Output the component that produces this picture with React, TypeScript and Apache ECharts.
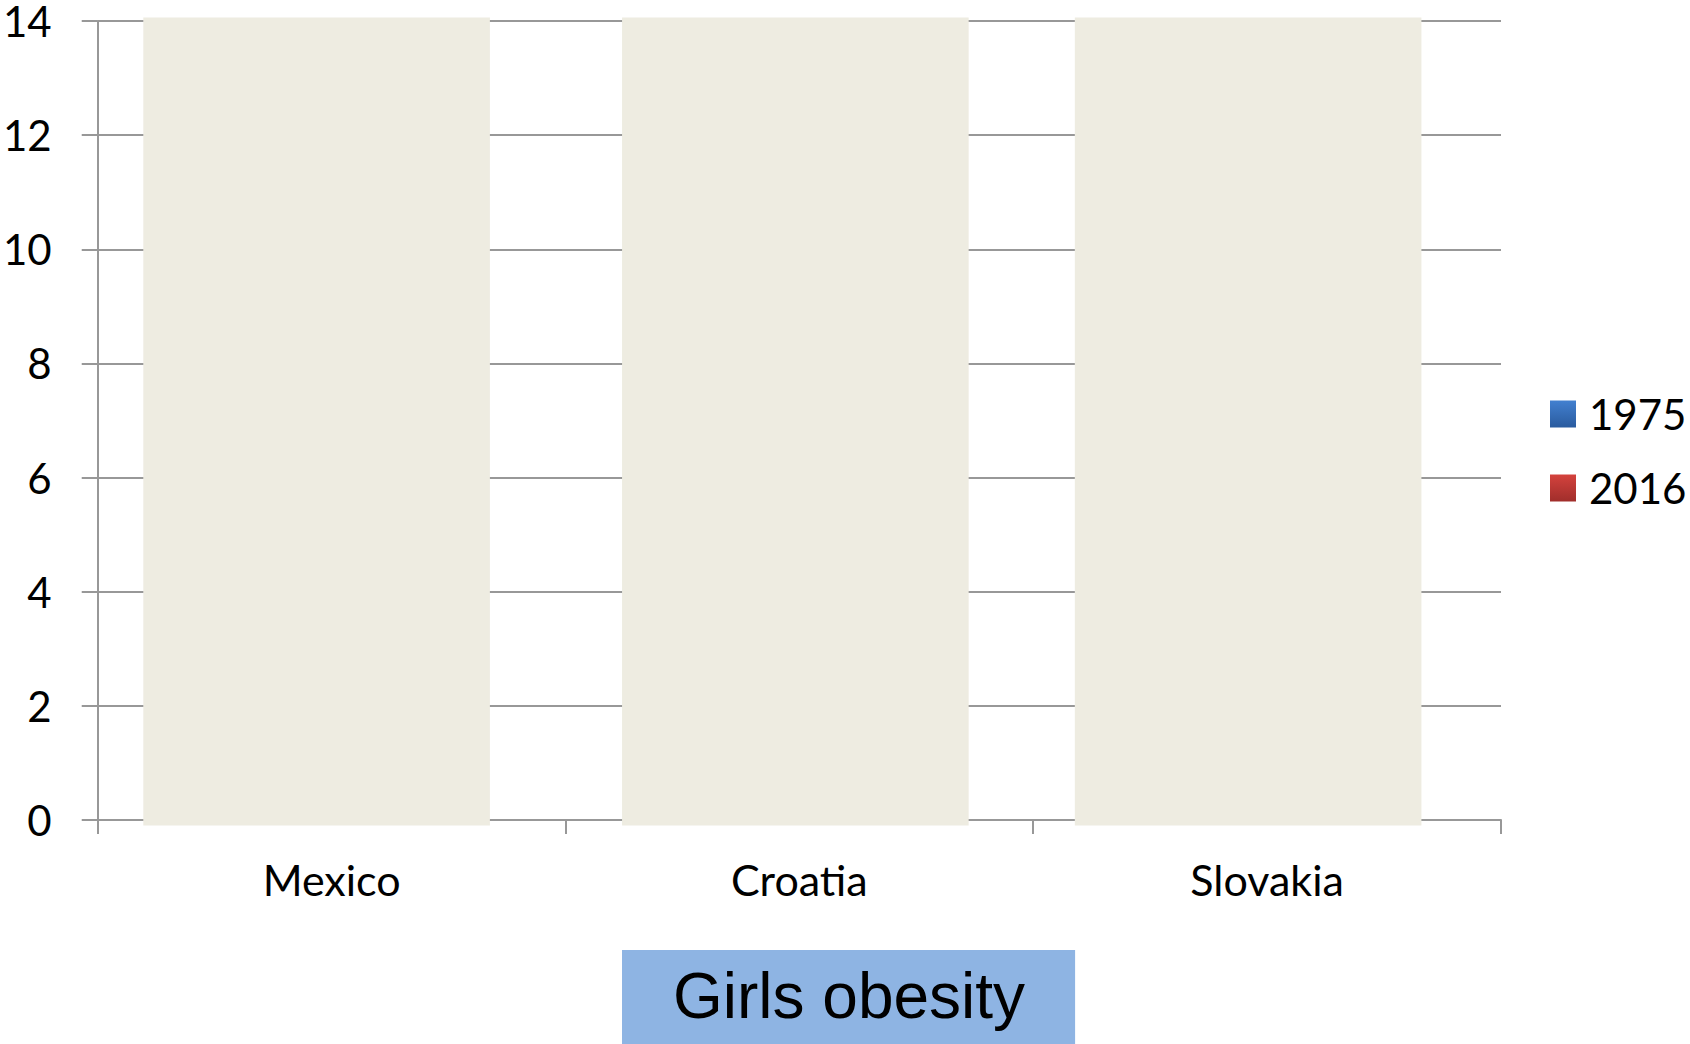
import React, { useEffect, useRef } from "react";
import * as echarts from "echarts";

const categories = ["Mexico", "Croatia", "Slovakia"];
const legendNames = ["1975", "2016"];
// Bars are hidden under the cover panels in the reference; values are estimates.
const values1975 = [1.2, 0.9, 0.7];
const values2016 = [12.8, 7.6, 5.9];
const yTicks = { min: 0, max: 14, interval: 2 };
const chartTitle = "Girls obesity";

// layout constants for the cover panels (not data)
const coverShift = [-15, -4, -19];
const coverRatio = 0.741;
const coverColor = "#EEECE1";

const FONT = "Lato";

export default function App() {
  const ref = useRef<HTMLDivElement>(null);
  useEffect(() => {
    if (!ref.current) return;
    const chart = echarts.init(ref.current, null, { renderer: "svg" });
    const grad = (a: string, b: string) =>
      new echarts.graphic.LinearGradient(0, 0, 0, 1, [
        { offset: 0, color: a },
        { offset: 1, color: b },
      ]);
    const gray = "#989898";
    chart.setOption({
      animation: false,
      backgroundColor: "#ffffff",
      title: {
        text: chartTitle,
        left: 622,
        top: 950,
        padding: [14, 50, 16, 51],
        backgroundColor: "#8EB4E3",
        textStyle: {
          fontFamily: "Liberation Sans",
          fontWeight: "normal",
          fontSize: 64,
          lineHeight: 64,
          color: "#000",
        },
      },
      legend: {
        data: legendNames,
        orient: "vertical",
        left: 1550,
        top: 393,
        padding: 0,
        itemWidth: 26,
        itemHeight: 27,
        itemGap: 32,
        icon: "rect",
        textStyle: {
          fontFamily: FONT,
          fontSize: 42,
          color: "#000",
          padding: [0, 0, 0, 8],
        },
      },
      grid: { left: 95, right: 189, top: 18.5, bottom: 224, containLabel: false },
      xAxis: {
        type: "category",
        data: categories,
        axisLine: { show: true, lineStyle: { color: gray, width: 2 } },
        axisTick: { show: true, length: 14, lineStyle: { color: gray, width: 2 } },
        axisLabel: { fontFamily: FONT, fontSize: 43, color: "#000", margin: 38 },
      },
      yAxis: {
        type: "value",
        min: yTicks.min,
        max: yTicks.max,
        interval: yTicks.interval,
        axisLine: { show: true, lineStyle: { color: gray, width: 2 } },
        axisTick: { show: true, length: 16, lineStyle: { color: gray, width: 2 } },
        axisLabel: { fontFamily: FONT, fontSize: 42, color: "#000", margin: 46 },
        splitLine: { show: true, lineStyle: { color: gray, width: 2 } },
      },
      series: [
        {
          name: legendNames[0],
          type: "bar",
          data: values1975,
          barWidth: "30%",
          itemStyle: { color: grad("#4280D0", "#2A5B9E") },
        },
        {
          name: legendNames[1],
          type: "bar",
          data: values2016,
          barWidth: "30%",
          itemStyle: { color: grad("#D4423D", "#A02E2B") },
        },
        {
          name: "cover",
          type: "custom",
          z: 10,
          silent: true,
          data: categories.map((_, i) => [i]),
          encode: { x: 0 },
          renderItem: (params: any, api: any) => {
            const i = api.value(0);
            const top = api.coord([i, yTicks.max]);
            const bottom = api.coord([i, yTicks.min]);
            const band = api.size([1, 0])[0];
            const w = band * coverRatio;
            return {
              type: "rect",
              shape: {
                x: top[0] - w / 2 + coverShift[i],
                y: top[1] - 3.5,
                width: w,
                height: bottom[1] - top[1] + 9,
              },
              style: { fill: coverColor },
            };
          },
        },
      ],
    });
    return () => chart.dispose();
  }, []);
  return (
    <div
      ref={ref}
      style={{ position: "absolute", left: 0, top: 0, width: 1690, height: 1044 }}
    />
  );
}
